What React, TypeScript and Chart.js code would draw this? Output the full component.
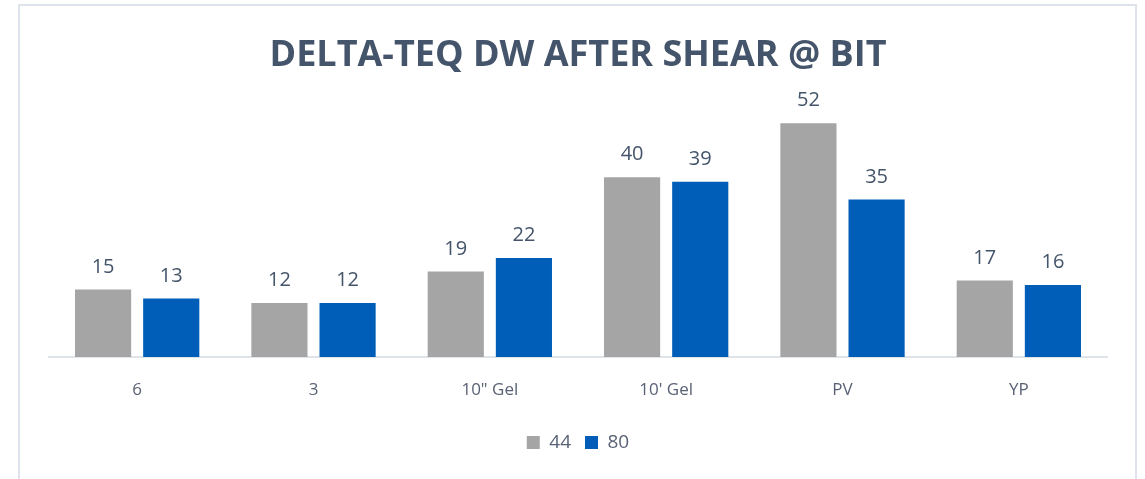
import React, { useEffect, useRef } from "react";
import { Chart, registerables } from "chart.js";

Chart.register(...registerables);

const categories = ["6", "3", "10\" Gel", "10' Gel", "PV", "YP"];
const series44 = [15, 12, 19, 40, 52, 17];
const series80 = [13, 12, 22, 39, 35, 16];
const seriesNames = ["44", "80"];

const FONT = "'Open Sans', 'Noto Sans', sans-serif";

const framePlugin = {
  id: "frame",
  beforeDraw(chart: any) {
    const ctx = chart.ctx;
    ctx.save();
    ctx.fillStyle = "#ffffff";
    ctx.fillRect(0, 0, chart.width, chart.height);
    ctx.strokeStyle = "#dfe4ec";
    ctx.lineWidth = 2;
    ctx.beginPath();
    ctx.moveTo(19, chart.height + 5);
    ctx.lineTo(19, 5);
    ctx.lineTo(1136, 5);
    ctx.lineTo(1136, chart.height + 5);
    ctx.stroke();
    ctx.restore();
  },
};

const labelPlugin = {
  id: "barLabels",
  afterDatasetsDraw(chart: any) {
    const ctx = chart.ctx;
    ctx.save();
    ctx.font = `20px ${FONT}`;
    ctx.fillStyle = "#44546A";
    ctx.textAlign = "center";
    ctx.textBaseline = "alphabetic";
    chart.data.datasets.forEach((ds: any, i: number) => {
      const meta = chart.getDatasetMeta(i);
      meta.data.forEach((bar: any, j: number) => {
        ctx.fillText(String(ds.data[j]), bar.x, bar.y - 17);
      });
    });
    ctx.restore();
  },
};

export default function App() {
  const ref = useRef<HTMLCanvasElement>(null);
  useEffect(() => {
    document.body.style.margin = "0";
    const chart = new Chart(ref.current!, {
      type: "bar",
      data: {
        labels: categories,
        datasets: [
          { label: seriesNames[0], data: series44, backgroundColor: "#A5A5A5" },
          { label: seriesNames[1], data: series80, backgroundColor: "#005EB8" },
        ],
      },
      options: {
        animation: false,
        responsive: false,
        layout: { padding: { left: 49, right: 38, top: 0, bottom: 17 } },
        datasets: {
          bar: { categoryPercentage: 0.773, barPercentage: 0.824 },
        },
        scales: {
          x: {
            grid: { display: false },
            border: { display: true, color: "#dfe3ea", width: 2 },
            ticks: { color: "#596275", font: { family: FONT, size: 17 }, padding: 15 },
            afterFit: (s: any) => {
              s.height = 62;
            },
          },
          y: {
            display: false,
            min: 0,
            max: 60,
          },
        },
        plugins: {
          title: {
            display: true,
            text: "DELTA-TEQ DW AFTER SHEAR @ BIT",
            color: "#44546A",
            font: { family: FONT, size: 36, weight: "bold" },
            padding: { top: 34, bottom: 10 },
          },
          legend: {
            position: "bottom",
            labels: {
              color: "#596275",
              font: { family: FONT, size: 19 },
              boxWidth: 13,
              boxHeight: 13,
              padding: 14,
            },
          },
          tooltip: { enabled: false },
        },
      },
      plugins: [framePlugin, labelPlugin],
    });
    return () => chart.destroy();
  }, []);
  return <canvas ref={ref} width={1145} height={479} style={{ display: "block" }} />;
}
